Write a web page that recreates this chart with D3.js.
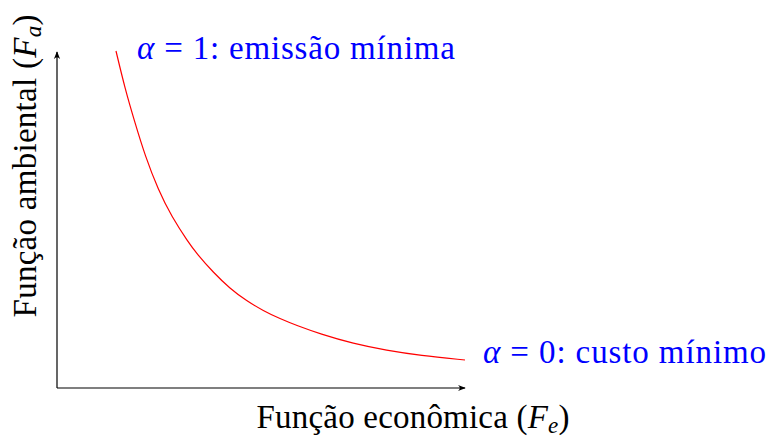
<!DOCTYPE html>
<html>
<head>
<meta charset="utf-8">
<script src="https://cdn.jsdelivr.net/npm/d3@7"></script>
<style>
  html, body { margin: 0; padding: 0; background: #fff; }
  svg { display: block; }
  text { font-family: "Liberation Serif", "DejaVu Serif", serif; }
</style>
</head>
<body>
<svg id="chart" width="768" height="441"></svg>
<script>
// Pareto front: economic objective (Fe) vs. environmental objective (Fa)
const frontFe = [14.46, 16.67, 19.12, 21.57, 24.83, 28.11, 32.18, 34.24, 38.31, 42.40,
                 46.50, 50.56, 54.66, 58.75, 64.46, 72.62, 80.81, 88.97, 100];
const frontFa = [100.3, 89.1, 78.9, 69.2, 58.9, 51.0, 43.4, 40.0, 34.4, 29.6,
                 25.9, 23.0, 20.6, 18.6, 16.1, 13.2, 11.2, 9.7, 8.33];

const xTitle = ["Função econômica (", "F", "e", ")"];
const yTitle = ["Função ambiental (", "F", "a", ")"];
const topLabel = ["α", " = 1: emissão mínima"];
const bottomLabel = ["α", " = 0: custo mínimo"];

const svg = d3.select("#chart");

const x = d3.scaleLinear().domain([0, 100]).range([57, 465]);
const y = d3.scaleLinear().domain([0, 100]).range([388, 52]);

// arrow head marker
svg.append("defs").append("marker")
  .attr("id", "arrow")
  .attr("viewBox", "0 0 10 10")
  .attr("refX", 9).attr("refY", 5)
  .attr("markerWidth", 8).attr("markerHeight", 8)
  .attr("markerUnits", "userSpaceOnUse")
  .attr("orient", "auto")
  .append("path")
  .attr("d", "M0,1 Q5,5 0,9 L10,5 Z")
  .attr("fill", "#000");

// axes
svg.append("line")
  .attr("x1", x(0)).attr("y1", y(0))
  .attr("x2", x(100)).attr("y2", y(0))
  .attr("stroke", "#000").attr("stroke-width", 1.2)
  .attr("marker-end", "url(#arrow)");
svg.append("line")
  .attr("x1", x(0)).attr("y1", y(0))
  .attr("x2", x(0)).attr("y2", y(100))
  .attr("stroke", "#000").attr("stroke-width", 1.2)
  .attr("marker-end", "url(#arrow)");

// front curve (B-spline through the sampled front)
const pts = frontFe.map((d, i) => [d, frontFa[i]]);
const line = d3.line()
  .x(d => x(d[0])).y(d => y(d[1]))
  .curve(d3.curveBasis);
svg.append("path")
  .datum(pts)
  .attr("d", line)
  .attr("fill", "none")
  .attr("stroke", "#ff0000")
  .attr("stroke-width", 1.2);

const fs = 33;

// extreme point labels
function alphaLabel(parts, px, py, len) {
  const t = svg.append("text")
    .attr("x", px).attr("y", py)
    .attr("fill", "#0000ff")
    .attr("font-size", fs)
    .attr("textLength", len);
  t.append("tspan").attr("font-style", "italic").text(parts[0]);
  t.append("tspan").text(parts[1]);
  return t;
}
const last = pts[pts.length - 1];
alphaLabel(topLabel, x(pts[0][0]) + 21, 59, 318);
alphaLabel(bottomLabel, x(last[0]) + 18, 363, 283);

// axis titles
function axisTitle(parts, sel) {
  sel.append("tspan").text(parts[0]);
  sel.append("tspan").attr("font-style", "italic").text(parts[1]);
  sel.append("tspan").attr("font-style", "italic")
    .attr("font-size", fs * 0.7).attr("dy", 5).text(parts[2]);
  sel.append("tspan").attr("dy", -5).text(parts[3]);
}
axisTitle(xTitle, svg.append("text")
  .attr("x", 413).attr("y", 428)
  .attr("text-anchor", "middle")
  .attr("font-size", fs)
  .attr("textLength", 313)
  .attr("fill", "#000"));

axisTitle(yTitle, svg.append("text")
  .attr("transform", "translate(36,166) rotate(-90)")
  .attr("text-anchor", "middle")
  .attr("font-size", fs)
  .attr("textLength", 303)
  .attr("fill", "#000"));
</script>
</body>
</html>
